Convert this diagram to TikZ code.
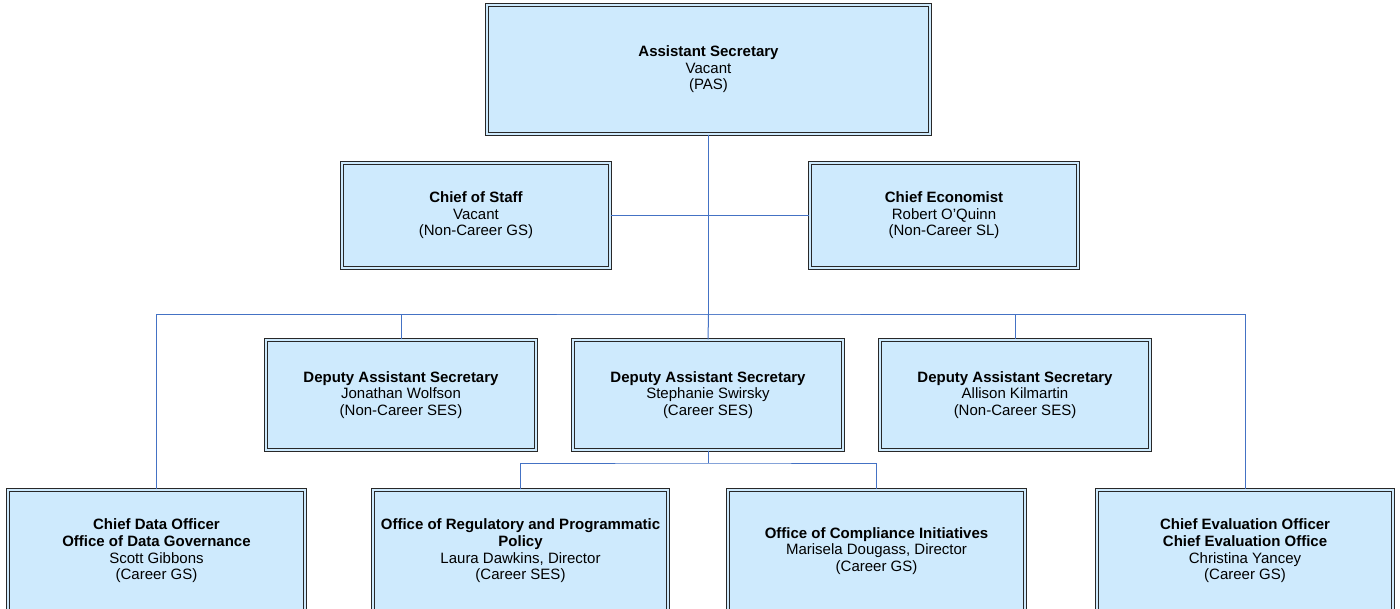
\documentclass[tikz,border=0pt]{standalone}
\usepackage{fontspec}
\setmainfont{Liberation Sans}
\definecolor{boxfill}{RGB}{206,234,253}
\definecolor{boxline}{RGB}{40,40,40}
\definecolor{linkblue}{RGB}{68,114,196}
\begin{document}
\begin{tikzpicture}[x=0.5pt,y=-0.5pt,
  orgbox/.style={draw=boxline,double=boxfill,double distance=0.9pt,line width=0.55pt,
    fill=boxfill,align=center,inner sep=0pt,font=\fontsize{7.5}{8.3}\selectfont},
  link/.style={draw=linkblue,line width=0.5pt}]
\useasboundingbox (0,0) rectangle (1400,609);
% top
\node[orgbox,minimum width=221.5pt,minimum height=64.5pt] (asec) at (708.5,69.5)
  {\textbf{Assistant Secretary}\\Vacant\\(PAS)};
% staff row
\node[orgbox,minimum width=134pt,minimum height=52.5pt] (cos) at (476,215.5)
  {\textbf{Chief of Staff}\\Vacant\\(Non-Career GS)};
\node[orgbox,minimum width=134pt,minimum height=52.5pt] (econ) at (944,215.5)
  {\textbf{Chief Economist}\\Robert O'Quinn\\(Non-Career SL)};
% deputies
\node[orgbox,minimum width=135pt,minimum height=55pt] (das1) at (401,395)
  {\textbf{Deputy Assistant Secretary}\\Jonathan Wolfson\\(Non-Career SES)};
\node[orgbox,minimum width=135pt,minimum height=55pt] (das2) at (708,395)
  {\textbf{Deputy Assistant Secretary}\\Stephanie Swirsky\\(Career SES)};
\node[orgbox,minimum width=135pt,minimum height=55pt] (das3) at (1015,395)
  {\textbf{Deputy Assistant Secretary}\\Allison Kilmartin\\(Non-Career SES)};
% offices
\node[orgbox,minimum width=148.5pt,minimum height=61pt] (cdo) at (156.5,551)
  {\textbf{Chief Data Officer}\\\textbf{Office of Data Governance}\\Scott Gibbons\\(Career GS)};
\node[orgbox,minimum width=147.5pt,minimum height=61pt] (orpp) at (520.5,551)
  {\textbf{Office of Regulatory and Programmatic}\\\textbf{Policy}\\Laura Dawkins, Director\\(Career SES)};
\node[orgbox,minimum width=148.5pt,minimum height=61pt] (oci) at (876.5,551)
  {\textbf{Office of Compliance Initiatives}\\Marisela Dougass, Director\\(Career GS)};
\node[orgbox,minimum width=148pt,minimum height=61pt] (ceo) at (1245,551)
  {\textbf{Chief Evaluation Officer}\\\textbf{Chief Evaluation Office}\\Christina Yancey\\(Career GS)};
% connectors
\coordinate (bus) at (708.5,314);
\coordinate (bus2) at (708,463);
\draw[link] (asec.south) -- (bus);
\draw[link] (cos.east) -- (econ.west);
\draw[link] (cdo.north) |- (bus) -| (ceo.north);
\draw[link] (das1.north) |- (bus) -| (das3.north);
\draw[link] (bus) -- (das2.north);
\draw[link] (das2.south) -- (bus2);
\draw[link] (orpp.north) |- (bus2) -| (oci.north);
\end{tikzpicture}
\end{document}
